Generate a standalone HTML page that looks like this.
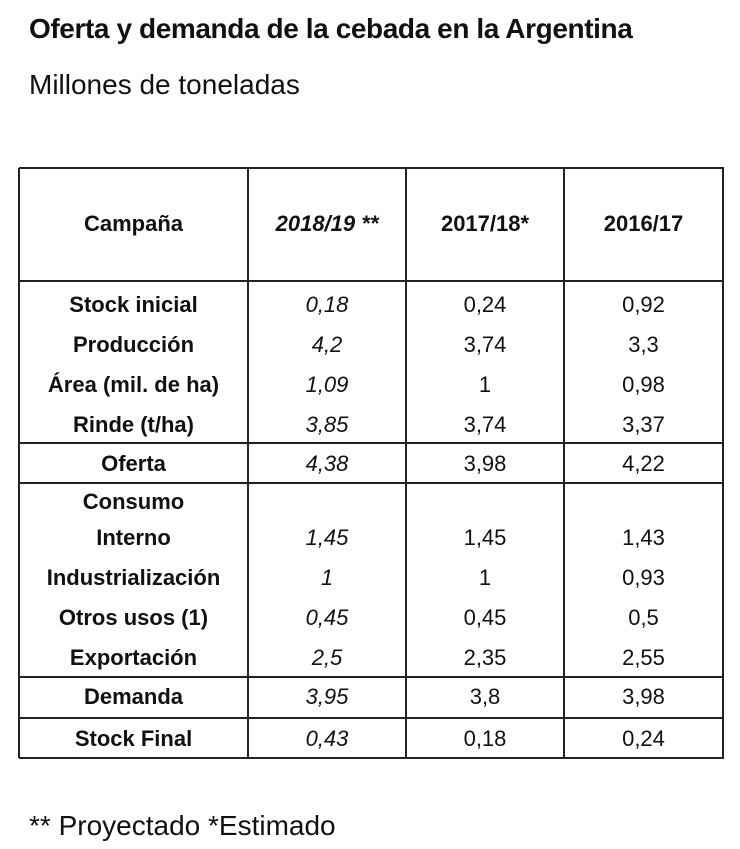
<!DOCTYPE html>
<html><head><meta charset="utf-8"><style>
body{margin:0;width:740px;height:849px;background:#fff;position:relative;font-family:"Liberation Sans",Arial,sans-serif;color:#111;overflow:hidden}
.t{position:absolute;white-space:nowrap;transform:translate(-50%,-50%);font-size:22px;line-height:1}
.b{font-weight:bold}.i{font-style:italic}
.l{position:absolute;background:#222}
</style></head><body>
<div style="position:absolute;left:29px;top:13px;font-size:28px;font-weight:bold;letter-spacing:-0.4px">Oferta y demanda de la cebada en la Argentina</div>
<div style="position:absolute;left:29px;top:69px;font-size:28px">Millones de toneladas</div>
<div id="tbl"></div>
<div style="position:absolute;left:29px;top:810px;font-size:28px">** Proyectado *Estimado</div>
<script>
const cols=[19,248,406,564,723];
const hlines=[168,281,443,483,677,718,758];
const headers=["Campaña","2018/19 **","2017/18*","2016/17"];
const labels=["Stock inicial","Producción","Área (mil. de ha)","Rinde (t/ha)","Oferta","Consumo|Interno","Industrialización","Otros usos (1)","Exportación","Demanda","Stock Final"];
const rowY=[305,345,385,425,464,520,578,618,658,697,739];
const v1819=["0,18","4,2","1,09","3,85","4,38","1,45","1","0,45","2,5","3,95","0,43"];
const v1718=["0,24","3,74","1","3,74","3,98","1,45","1","0,45","2,35","3,8","0,18"];
const v1617=["0,92","3,3","0,98","3,37","4,22","1,43","0,93","0,5","2,55","3,98","0,24"];
const root=document.body;
function line(x,y,w,h,n){const d=document.createElement('div');d.className='l';


d.style.cssText+=`left:${x}px;top:${y}px;width:${w}px;height:${h}px`;root.appendChild(d);}
hlines.forEach((y,i)=>line(cols[0],y-1,cols[4]-cols[0]+1,1.5,'row-border'));
cols.forEach(x=>line(x-1,hlines[0],1.5,hlines[hlines.length-1]-hlines[0],'col-border'));
function txt(s,cx,cy,cls,n){const d=document.createElement('div');d.className='t '+cls;d.textContent=s;


d.style.left=cx+'px';d.style.top=cy+'px';root.appendChild(d);}
const cx=i=>(cols[i]+cols[i+1])/2;
headers.forEach((h,i)=>txt(h,cx(i),224,i===1?'b i':'b','header-cell'));
labels.forEach((s,r)=>{
 if(s.includes('|')){const p=s.split('|');txt(p[0],cx(0),502,'b','row-label');txt(p[1],cx(0),538,'b','row-label');}
 else txt(s,cx(0),rowY[r],'b','row-label');
 const y=s.includes('|')?538:rowY[r];
 txt(v1819[r],cx(1),y,'i','value-2018-19');
 txt(v1718[r],cx(2),y,'','value-2017-18');
 txt(v1617[r],cx(3),y,'','value-2016-17');
});
</script>
</body></html>
